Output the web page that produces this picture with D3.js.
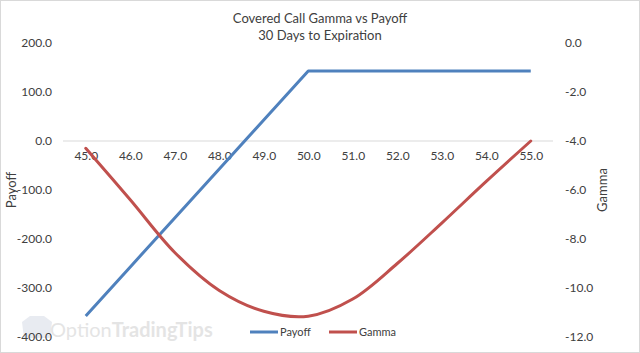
<!DOCTYPE html>
<html lang="en">
<head>
<meta charset="UTF-8">
<title>Covered Call Gamma vs Payoff</title>
<script src="https://d3js.org/d3.v7.min.js"></script>
<style>
    body { margin: 0; background: #fff; }
    text { font-family: Lato, "Open Sans", sans-serif; fill: #404040; }
    .tick text { font-size: 12px; }
</style>
</head>
<body>
<script>
    // data
    const prices = [45, 46, 47, 48, 49, 50, 51, 52, 53, 54, 55];
    const payoff = [-357, -257, -157, -57, 43, 143, 143, 143, 143, 143, 143];
    const gamma = [-4.3, -6.4, -8.55, -10.1, -10.95, -11.15, -10.45, -9.0, -7.35, -5.65, -4.0];
    const leftTicks = [200, 100, 0, -100, -200, -300, -400];
    const rightTicks = [0, -2, -4, -6, -8, -10, -12];

    const w = 640, h = 353;
    const svg = d3.select("body").append("svg")
        .attr("width", w).attr("height", h);

    // chart border
    svg.append("rect")
        .attr("x", 0.5).attr("y", 0.5)
        .attr("width", w - 1).attr("height", h - 1)
        .attr("fill", "#fff").attr("stroke", "#d9d9d9");

    // watermark
    const wm = svg.append("g").attr("opacity", 0.55);
    wm.append("path")
        .attr("d", "M22,322 L30,316 L44,316 L52,322 L50,338 L24,338 Z")
        .attr("fill", "#d6dbe6");
    wm.append("text").attr("x", 50).attr("y", 337)
        .style("font-size", "20px").style("fill", "#cfcfcf")
        .text("Option")
        .append("tspan").style("font-weight", "bold").text("TradingTips");

    const x = d3.scalePoint().domain(prices).range([85.75, 530.75]);
    const yL = d3.scaleLinear().domain([-400, 200]).range([337, 43]);
    const yR = d3.scaleLinear().domain([-12, 0]).range([337, 43]);
    const fmt = d => d.toFixed(1);

    // zero line
    svg.append("line")
        .attr("x1", 63).attr("x2", 553)
        .attr("y1", yL(0)).attr("y2", yL(0))
        .attr("stroke", "#d9d9d9").attr("stroke-width", 1);

    svg.append("g")
        .attr("transform", "translate(56,0)")
        .call(d3.axisLeft(yL).tickValues(leftTicks).tickFormat(fmt).tickSize(0).tickPadding(4))
        .call(g => g.select(".domain").remove());

    svg.append("g")
        .attr("transform", "translate(561,0)")
        .call(d3.axisRight(yR).tickValues(rightTicks).tickFormat(fmt).tickSize(0).tickPadding(4))
        .call(g => g.select(".domain").remove());

    svg.append("g")
        .attr("transform", `translate(0,${yL(0) + 8})`)
        .call(d3.axisBottom(x).tickFormat(fmt).tickSize(0).tickPadding(2))
        .call(g => g.select(".domain").remove());

    // titles
    svg.append("text").attr("x", 320).attr("y", 23)
        .attr("text-anchor", "middle").style("font-size", "13px")
        .text("Covered Call Gamma vs Payoff");
    svg.append("text").attr("x", 320).attr("y", 40)
        .attr("text-anchor", "middle").style("font-size", "13px")
        .text("30 Days to Expiration");

    svg.append("text")
        .attr("transform", "translate(16,190) rotate(-90)")
        .attr("text-anchor", "middle").style("font-size", "13px")
        .text("Payoff");
    svg.append("text")
        .attr("transform", "translate(607,190) rotate(-90)")
        .attr("text-anchor", "middle").style("font-size", "13px")
        .text("Gamma");

    // series
    const payLine = d3.line()
        .x((d, i) => x(prices[i]))
        .y(d => yL(d));
    svg.append("path").datum(payoff)
        .attr("d", payLine)
        .attr("fill", "none").attr("stroke", "#4f81bd")
        .attr("stroke-width", 3).attr("stroke-linejoin", "round");

    const gamLine = d3.line()
        .x((d, i) => x(prices[i]))
        .y(d => yR(d))
        .curve(d3.curveCatmullRom.alpha(0.5));
    svg.append("path").datum(gamma)
        .attr("d", gamLine)
        .attr("fill", "none").attr("stroke", "#c0504d")
        .attr("stroke-width", 3).attr("stroke-linecap", "round");

    // legend
    const legend = [
        { name: "Payoff", color: "#4f81bd", x: 250 },
        { name: "Gamma", color: "#c0504d", x: 329 }
    ];
    const lg = svg.append("g").selectAll("g").data(legend).enter().append("g")
        .attr("transform", d => `translate(${d.x},332)`);
    lg.append("line").attr("x1", 0).attr("x2", 28)
        .attr("stroke", d => d.color).attr("stroke-width", 3);
    lg.append("text").attr("x", 30).attr("y", 4)
        .style("font-size", "11px").text(d => d.name);
</script>
</body>
</html>
